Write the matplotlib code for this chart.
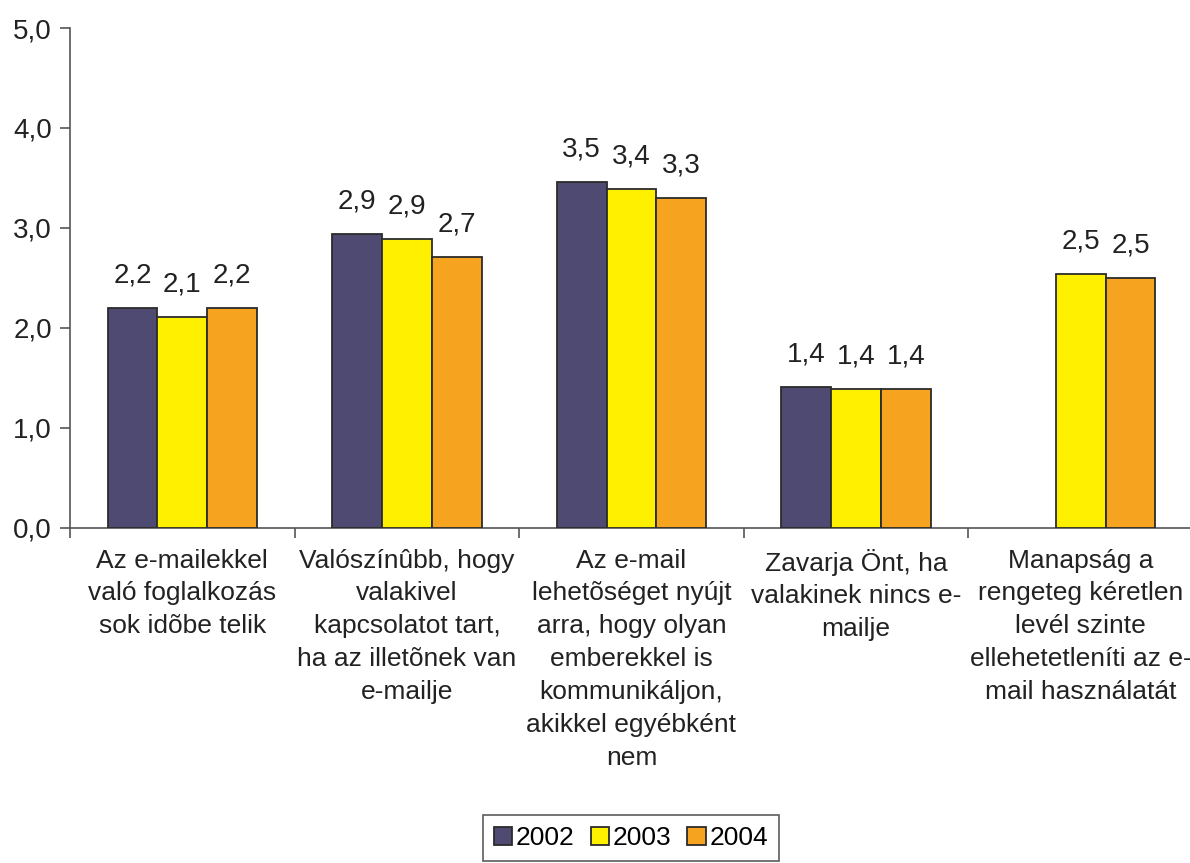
import numpy as np
import matplotlib
matplotlib.use("Agg")
import matplotlib.pyplot as plt

plt.rcParams["font.family"] = ["Liberation Sans", "DejaVu Sans"]

# Chart data
categories = [
    "Az e-mailekkel\nvaló foglalkozás\nsok idõbe telik",
    "Valószínûbb, hogy\nvalakivel\nkapcsolatot tart,\nha az illetõnek van\ne-mailje",
    "Az e-mail\nlehetõséget nyújt\narra, hogy olyan\nemberekkel is\nkommunikáljon,\nakikkel egyébként\nnem",
    "Zavarja Önt, ha\nvalakinek nincs e-\nmailje",
    "Manapság a\nrengeteg kéretlen\nlevél szinte\nellehetetleníti az e-\nmail használatát",
]
years = ["2002", "2003", "2004"]
values_2002 = [2.20, 2.94, 3.46, 1.41, None]
values_2003 = [2.11, 2.89, 3.39, 1.39, 2.54]
values_2004 = [2.20, 2.71, 3.30, 1.39, 2.50]
series = [values_2002, values_2003, values_2004]
colors = ["#4f4a72", "#fff000", "#f6a31f"]

fig = plt.figure(figsize=(11.9, 8.63), dpi=100)
ax = fig.add_axes([70 / 1190, 1 - 527.7 / 863, 1123 / 1190, 499.7 / 863])

x = np.arange(len(categories))
width = 0.222

for i, (vals, col, yr) in enumerate(zip(series, colors, years)):
    xs = [xi + (i - 1) * width for xi, v in zip(x, vals) if v is not None]
    vs = [v for v in vals if v is not None]
    bars = ax.bar(xs, vs, width, color=col, edgecolor="#2b2b2b", linewidth=1.3,
                  label=yr, zorder=3)
    for b, v in zip(bars, vs):
        ax.annotate(f"{v:.1f}".replace(".", ","),
                    (b.get_x() + b.get_width() / 2, v),
                    xytext=(0, 14), textcoords="offset points",
                    ha="center", va="bottom", fontsize=20, color="#222222")

ax.set_xlim(-0.5, len(categories) - 0.5)
ax.set_ylim(0, 5)
ax.set_yticks(np.arange(0, 6, 1))
ax.set_yticklabels([f"{t:.1f}".replace(".", ",") for t in np.arange(0, 6, 1)])

ax.set_xticks(x)
ax.set_xticklabels(categories, linespacing=1.47)
ax.set_xticks(np.arange(-0.5, len(categories), 1), minor=True)
ax.tick_params(axis="x", which="major", length=0, pad=15, labelsize=19,
               labelcolor="#222222")
ax.tick_params(axis="x", which="minor", length=7, width=1.2, color="#555555")
ax.tick_params(axis="y", length=7, width=1.2, color="#555555", labelsize=20,
               labelcolor="#222222", pad=6)

for s in ["top", "right"]:
    ax.spines[s].set_visible(False)
for s in ["left", "bottom"]:
    ax.spines[s].set_color("#555555")
    ax.spines[s].set_linewidth(1.2)

leg = fig.legend(loc="center", bbox_to_anchor=(631 / 1190, 1 - 838 / 863),
                 ncol=3, fontsize=19, frameon=True, fancybox=False,
                 edgecolor="#333333", handlelength=0.7, handleheight=0.7,
                 handletextpad=0.15, columnspacing=0.6, borderpad=0.4,
                 borderaxespad=0)
leg.get_frame().set_linewidth(1.2)

fig.savefig("out.png", dpi=100)
